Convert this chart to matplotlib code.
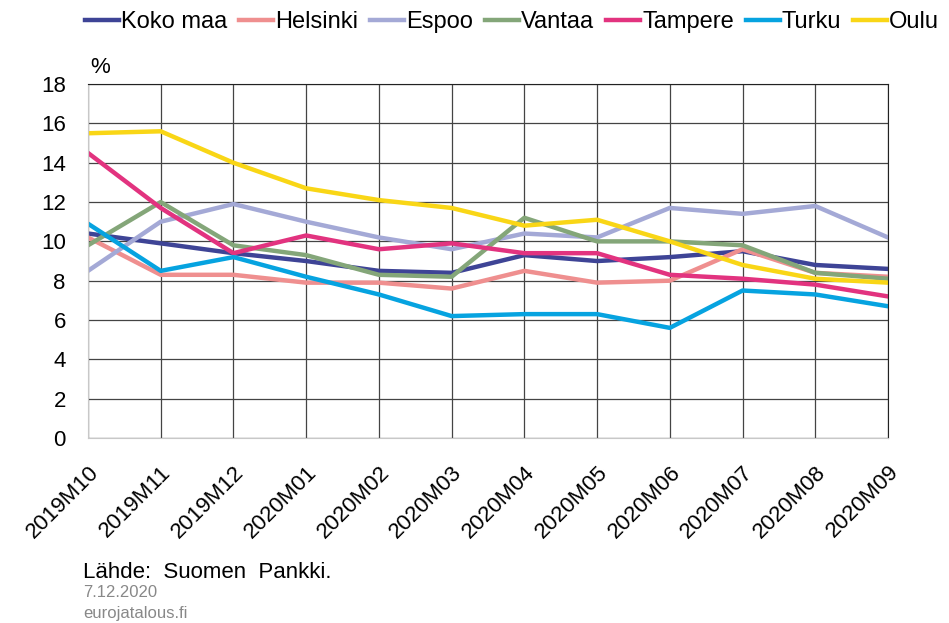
import matplotlib.pyplot as plt
import numpy as np

plt.rcParams['font.family'] = ['Liberation Sans', 'DejaVu Sans']

months = ['2019M10', '2019M11', '2019M12', '2020M01', '2020M02', '2020M03',
          '2020M04', '2020M05', '2020M06', '2020M07', '2020M08', '2020M09']

koko_maa = [10.4, 9.9, 9.4, 9.0, 8.5, 8.4, 9.3, 9.0, 9.2, 9.5, 8.8, 8.6]
helsinki = [10.2, 8.3, 8.3, 7.9, 7.9, 7.6, 8.5, 7.9, 8.0, 9.6, 8.4, 8.2]
espoo = [8.5, 11.0, 11.9, 11.0, 10.2, 9.6, 10.4, 10.2, 11.7, 11.4, 11.8, 10.2]
vantaa = [9.8, 12.0, 9.8, 9.3, 8.3, 8.2, 11.2, 10.0, 10.0, 9.8, 8.4, 8.1]
tampere = [14.5, 11.7, 9.4, 10.3, 9.6, 9.9, 9.4, 9.4, 8.3, 8.1, 7.8, 7.2]
turku = [10.9, 8.5, 9.2, 8.2, 7.3, 6.2, 6.3, 6.3, 5.6, 7.5, 7.3, 6.7]
oulu = [15.5, 15.6, 14.0, 12.7, 12.1, 11.7, 10.8, 11.1, 10.0, 8.8, 8.1, 7.9]

series = [
    ('Koko maa', koko_maa, '#3e4496'),
    ('Helsinki', helsinki, '#ef8f8f'),
    ('Espoo', espoo, '#a4a9d6'),
    ('Vantaa', vantaa, '#84a679'),
    ('Tampere', tampere, '#e2337f'),
    ('Turku', turku, '#06a3e0'),
    ('Oulu', oulu, '#f9d616'),
]

fig = plt.figure(figsize=(9.49, 6.23), dpi=100)
ax = fig.add_axes([0.0927, 0.297, 0.843, 0.568])

x = np.arange(len(months))
for name, vals, col in series:
    ax.plot(x, vals, color=col, lw=3.2, label=name)

ax.set_xlim(0, len(months) - 1)
ax.set_ylim(0, 18)
ax.set_yticks(np.arange(0, 19, 2))
ax.set_xticks(x)
ax.set_xticklabels(months, rotation=45, ha='right', rotation_mode='anchor')
ax.tick_params(axis='both', length=0, labelsize=16, colors='black')
ax.tick_params(axis='x', pad=17)
ax.tick_params(axis='y', pad=16)
ax.grid(True, color='#444444', lw=0.9)
ax.set_axisbelow(True)
for s in ['top', 'right']:
    ax.spines[s].set_color('#222222')
for s in ['left', 'bottom']:
    ax.spines[s].set_color('#c8c8c8')

fig.text(0.095, 0.883, '%', fontsize=16)

# legend across the top
fig.legend(loc='center left', bbox_to_anchor=(0.0896, 0.965), ncol=7, frameon=False,
           fontsize=17, handlelength=1.45, handletextpad=0.08, columnspacing=0.5,
           borderaxespad=0, borderpad=0)

fig.text(0.0875, 0.072, 'Lähde:  Suomen  Pankki.', fontsize=16)
fig.text(0.0875, 0.041, '7.12.2020', fontsize=12, color='#888888')
fig.text(0.0875, 0.008, 'eurojatalous.fi', fontsize=12, color='#888888')

fig.savefig('out.png', dpi=100)
